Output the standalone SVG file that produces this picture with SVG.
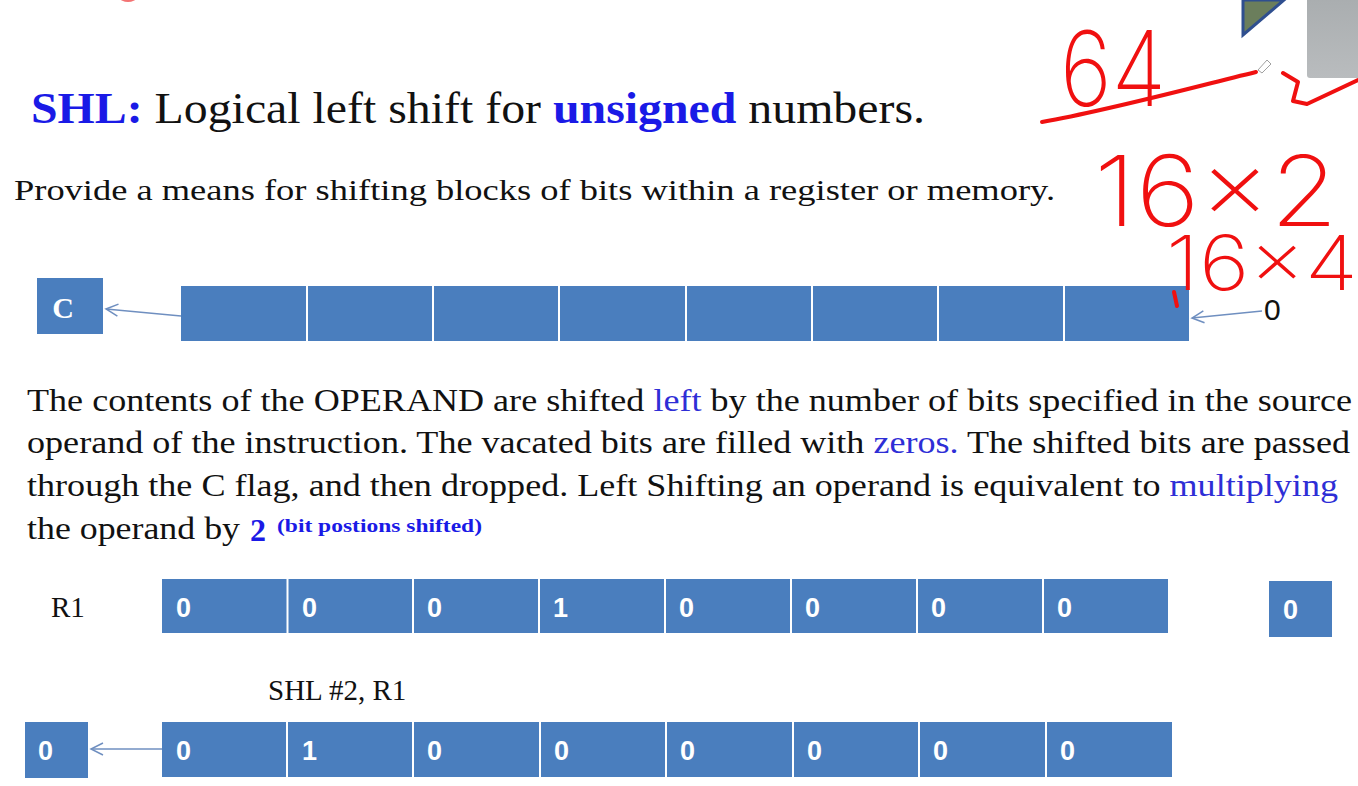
<svg xmlns="http://www.w3.org/2000/svg" width="1358" height="786" viewBox="0 0 1358 786">
  <defs>
    <marker id="open-arrow" markerWidth="16" markerHeight="14" refX="13" refY="7" orient="auto" markerUnits="userSpaceOnUse">
      <path d="M1,1 L13,7 L1,13" fill="none" stroke="#6F8FC0" stroke-width="1.5"/>
    </marker>
    <linearGradient id="grey-panel" x1="0" y1="0" x2="0" y2="1">
      <stop offset="0" stop-color="#A9ADAF"/>
      <stop offset="1" stop-color="#B9BCBE"/>
    </linearGradient>
  </defs>
  <style>
    .serif { font-family: "Liberation Serif", "Times New Roman", serif; fill: #111; }
    .sans { font-family: "Liberation Sans", Arial, sans-serif; }
    .blue { fill: #1A1AE6; }
    .lblue { fill: #2E2ED6; }
    .cell { fill: #4A7EBE; }
    .sep { stroke: #FFFFFF; stroke-width: 2; }
    .digit { font-family: "Liberation Sans", Arial, sans-serif; font-weight: bold; font-size: 27px; fill: #FFFFFF; }
    .conn { stroke: #6F8FC0; stroke-width: 1.5; fill: none; }
    .ink { stroke: #F01010; stroke-width: 4; fill: none; stroke-linecap: round; stroke-linejoin: round; }
    .inktext { font-family: "Inter", "Open Sans", sans-serif; font-weight: 200; fill: #F01010; }
  </style>

  <rect width="1358" height="786" fill="#FFFFFF"/>

  <!-- corner decoration of the slide -->
  <polygon points="1243,0 1284,0 1243,35" fill="#6B7E5C" stroke="#2F4F8F" stroke-width="3"/>
  <rect x="1307" y="-4" width="60" height="82" rx="3" fill="url(#grey-panel)"/>
  <ellipse cx="128" cy="-2" rx="8" ry="4" fill="#F05050" opacity="0.8"/>

  <!-- heading -->
  <text class="serif" x="31" y="123" font-size="45" textLength="894" lengthAdjust="spacingAndGlyphs"><tspan class="blue" font-weight="bold">SHL:</tspan> Logical left shift for <tspan class="blue" font-weight="bold">unsigned</tspan> numbers.</text>

  <text class="serif" x="14" y="200" font-size="30" textLength="1041" lengthAdjust="spacingAndGlyphs">Provide a means for shifting blocks of bits within a register or  memory.</text>

  <!-- carry flag and operand register -->
  <g id="carry-flag">
    <rect x="37" y="278" width="66" height="56" class="cell"/>
    <text x="63" y="318" text-anchor="middle" font-family="Liberation Serif, serif" font-weight="bold" font-size="30" fill="#FFFFFF">C</text>
  </g>
  <g id="operand-register">
    <rect x="181" y="286" width="1008" height="55" class="cell"/>
    <line class="sep" x1="307" y1="286" x2="307" y2="341"/>
    <line class="sep" x1="433" y1="286" x2="433" y2="341"/>
    <line class="sep" x1="559" y1="286" x2="559" y2="341"/>
    <line class="sep" x1="686" y1="286" x2="686" y2="341"/>
    <line class="sep" x1="812" y1="286" x2="812" y2="341"/>
    <line class="sep" x1="938" y1="286" x2="938" y2="341"/>
    <line class="sep" x1="1064" y1="286" x2="1064" y2="341"/>
  </g>
  <g id="fill-zero">
    <text class="sans" x="1264" y="320" font-size="30" fill="#111">0</text>
  </g>

  <!-- description -->
  <text class="serif" x="27" y="411" font-size="31" textLength="1325" lengthAdjust="spacingAndGlyphs">The contents of the OPERAND are shifted <tspan class="lblue">left</tspan> by the number of bits specified in the source</text>
  <text class="serif" x="27" y="453" font-size="31" textLength="1323" lengthAdjust="spacingAndGlyphs">operand of the instruction. The vacated bits are filled with <tspan class="lblue">zeros.</tspan> The shifted bits are passed</text>
  <text class="serif" x="27" y="496" font-size="31" textLength="1311" lengthAdjust="spacingAndGlyphs">through the C flag, and then dropped. Left Shifting an operand is equivalent to <tspan class="lblue">multiplying</tspan></text>
  <text class="serif" x="27" y="539" font-size="31" textLength="213" lengthAdjust="spacingAndGlyphs">the operand by</text>
  <text class="serif blue" x="250" y="541" font-size="32" font-weight="bold">2</text>
  <text class="serif blue" x="277" y="532" font-size="19" font-weight="bold" textLength="205" lengthAdjust="spacingAndGlyphs">(bit postions shifted)</text>

  <!-- example: R1 before the shift -->
  <text class="serif" x="51" y="617" font-size="29">R1</text>
  <g id="r1-before">
    <rect x="162" y="579" width="1006" height="54" class="cell"/>
    <line class="sep" x1="287.5" y1="579" x2="287.5" y2="633"/>
    <line class="sep" x1="413" y1="579" x2="413" y2="633"/>
    <line class="sep" x1="539" y1="579" x2="539" y2="633"/>
    <line class="sep" x1="665" y1="579" x2="665" y2="633"/>
    <line class="sep" x1="791" y1="579" x2="791" y2="633"/>
    <line class="sep" x1="917" y1="579" x2="917" y2="633"/>
    <line class="sep" x1="1043" y1="579" x2="1043" y2="633"/>
    <text class="digit" x="176" y="617">0</text>
    <text class="digit" x="302" y="617">0</text>
    <text class="digit" x="427" y="617">0</text>
    <text class="digit" x="553" y="617">1</text>
    <text class="digit" x="679" y="617">0</text>
    <text class="digit" x="805" y="617">0</text>
    <text class="digit" x="931" y="617">0</text>
    <text class="digit" x="1057" y="617">0</text>
  </g>
  <g id="carry-before">
    <rect x="1269" y="581" width="63" height="56" class="cell"/>
    <text class="digit" x="1283" y="619">0</text>
  </g>

  <text class="serif" x="268" y="700" font-size="29">SHL #2, R1</text>

  <!-- example: R1 after the shift -->
  <g id="carry-after">
    <rect x="25" y="722" width="63" height="56" class="cell"/>
    <text class="digit" x="38" y="760">0</text>
  </g>
  <g id="r1-after">
    <rect x="162" y="722" width="1010" height="55" class="cell"/>
    <line class="sep" x1="287" y1="722" x2="287" y2="777"/>
    <line class="sep" x1="413" y1="722" x2="413" y2="777"/>
    <line class="sep" x1="540" y1="722" x2="540" y2="777"/>
    <line class="sep" x1="666" y1="722" x2="666" y2="777"/>
    <line class="sep" x1="793" y1="722" x2="793" y2="777"/>
    <line class="sep" x1="919" y1="722" x2="919" y2="777"/>
    <line class="sep" x1="1046" y1="722" x2="1046" y2="777"/>
    <text class="digit" x="176" y="760">0</text>
    <text class="digit" x="302" y="760">1</text>
    <text class="digit" x="427" y="760">0</text>
    <text class="digit" x="554" y="760">0</text>
    <text class="digit" x="680" y="760">0</text>
    <text class="digit" x="807" y="760">0</text>
    <text class="digit" x="933" y="760">0</text>
    <text class="digit" x="1060" y="760">0</text>
  </g>

  <!-- connectors -->
  <g id="connectors">
    <line class="conn" x1="181" y1="316" x2="106" y2="309" marker-end="url(#open-arrow)"/>
    <line class="conn" x1="1262" y1="311" x2="1192" y2="318" marker-end="url(#open-arrow)"/>
    <line class="conn" x1="162" y1="749" x2="91" y2="749" marker-end="url(#open-arrow)"/>
  </g>

  <!-- red pen annotations -->
  <g id="annotations">
    <text class="inktext" x="1060" y="106" font-size="104" textLength="106" lengthAdjust="spacingAndGlyphs">64</text>
    <path class="ink" d="M1042,122 C1110,110 1190,88 1256,72"/>
    <path class="ink" d="M1283,73 L1298,82 L1293,101 L1307,104 L1358,80"/>
    <path d="M1258,70 L1267,60 L1271,64 L1262,73 Z" fill="#FFFFFF" stroke="#A0A0A0" stroke-width="1"/>
    <text class="inktext" x="1094" y="226" font-size="98" textLength="244" lengthAdjust="spacingAndGlyphs">16×2</text>
    <text class="inktext" x="1166" y="290" font-size="76" textLength="192" lengthAdjust="spacingAndGlyphs">16×4</text>
    <path class="ink" d="M1174,292 L1177,306"/>
  </g>
</svg>
